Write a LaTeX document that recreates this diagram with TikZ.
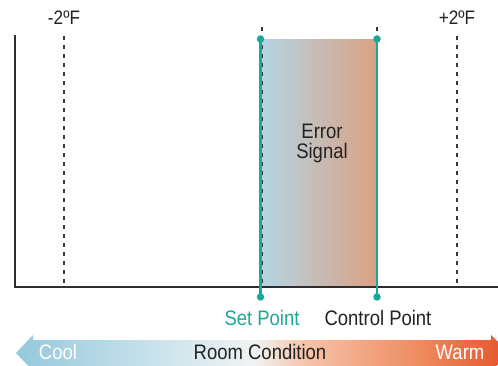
\documentclass[tikz,border=0pt]{standalone}
\usepackage{fontspec}
\setmainfont{Liberation Sans}[FakeStretch=0.88]
\definecolor{teal1}{HTML}{1BA89A}
\definecolor{errL}{HTML}{B4D6E3}
\definecolor{errR}{HTML}{DAA082}
\definecolor{ink}{HTML}{222222}
\pgfdeclarehorizontalshading{roomshade}{100bp}{
  color(0bp)=(rgb,255:red,149;green,200;blue,220);
  color(25bp)=(rgb,255:red,149;green,200;blue,220);
  color(41.6bp)=(rgb,255:red,211;green,231;blue,238);
  color(49.2bp)=(rgb,255:red,240;green,243;blue,243);
  color(54.3bp)=(rgb,255:red,245;green,196;blue,170);
  color(66bp)=(rgb,255:red,238;green,138;blue,94);
  color(75bp)=(rgb,255:red,228;green,83;blue,42);
  color(100bp)=(rgb,255:red,228;green,83;blue,42)}
\begin{document}
\begin{tikzpicture}[x=1pt,y=-1pt,
  axisline/.style={draw=ink!95, line width=2.2pt},
  dashline/.style={draw=ink!90, line width=1.6pt, dash pattern=on 4pt off 5pt},
  tealline/.style={draw=teal1, line width=2.6pt},
  dot/.style={circle, fill=teal1, inner sep=0pt, minimum size=7.5pt},
  lbl/.style={font=\fontsize{21}{23}\selectfont, text=ink, inner sep=0pt},
  deg/.style={font=\fontsize{19.5}{22}\selectfont, text=ink, inner sep=0pt},
  arrowtxt/.style={font=\fontsize{21}{23}\selectfont, inner sep=0pt}]
\useasboundingbox (0,0) rectangle (498,366);
\clip (0,0) rectangle (498,366);
% error region
\shade[left color=errL, right color=errR] (262,40) rectangle (377,287);
% bottom arrow
\shade[shading=roomshade]
  (16,353) -- (33,335) -- (33,340) -- (491,340) -- (491,335) -- (509,353)
  -- (491,371) -- (491,366) -- (33,366) -- (33,371) -- cycle;
% axes
\coordinate (ytop) at (15,35);
\coordinate (origin) at (15,287);
\coordinate (xend) at (499,287);
\draw[axisline] (ytop) -- (origin) -- (xend);
% dashed markers
\coordinate (m2t) at (64,36);  \coordinate (m2b) at (64,287);
\coordinate (spt) at (262,27); \coordinate (spb) at (262,287);
\coordinate (cpt) at (377,27); \coordinate (cpb) at (377,287);
\coordinate (p2t) at (457,36); \coordinate (p2b) at (457,287);
\draw[dashline] (m2t) -- (m2b);
\draw[dashline] (spt) -- (spb);
\draw[dashline] (cpt) -- (cpb);
\draw[dashline] (p2t) -- (p2b);
% teal set/control lines
\node[dot] (sp1) at (260.5,39) {};
\node[dot] (sp2) at (260.5,297) {};
\node[dot] (cp1) at (377,39) {};
\node[dot] (cp2) at (377,297) {};
\draw[tealline] (sp1.center) -- (sp2.center);
\draw[tealline] (cp1.center) -- (cp2.center);
% labels
\node[deg] (lm2) at (64,18) {-2ºF};
\node[deg] (lp2) at (457,18) {+2ºF};
\node[lbl, align=center] (err) at (322,143) {Error\\[-3pt]Signal};
\node[lbl, text=teal1] (spl) at (262,318) {Set Point};
\node[lbl] (cpl) at (378,318) {Control Point};
\node[lbl] (room) at (260,352) {Room Condition};
\node[arrowtxt, text=white] (cool) at (58,352) {Cool};
\node[arrowtxt, text=white] (warm) at (460,352) {Warm};
\end{tikzpicture}
\end{document}
